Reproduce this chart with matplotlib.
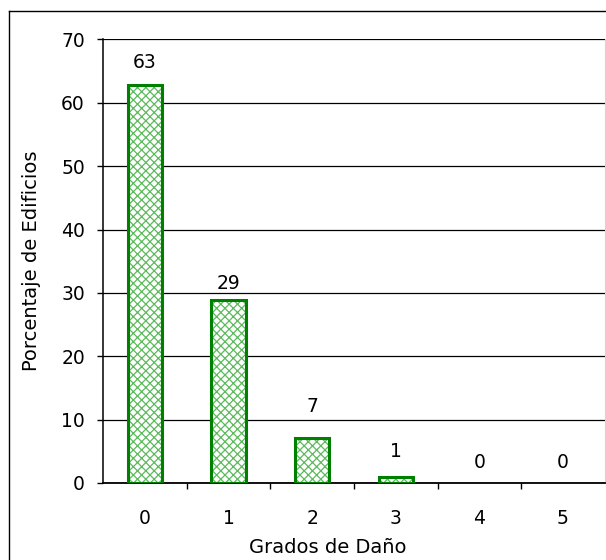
import matplotlib.pyplot as plt
from matplotlib.lines import Line2D

grados = ["0", "1", "2", "3", "4", "5"]
porcentaje = [62.8, 28.9, 7.1, 1.0, 0.0, 0.0]

# vertical offset (points) of each value label above its bar
label_offset = [16, 12, 23, 18, 15, 15]

plt.rcParams['font.family'] = ['DejaVu Sans']
plt.rcParams['hatch.linewidth'] = 0.9

fig = plt.figure(figsize=(6.06, 5.60), dpi=100)
ax = fig.add_axes([0.170, 0.1375, 0.828, 0.792])

x = range(len(grados))
# hatched fill first, then the dark outline on top (no outline for empty bars)
ax.bar(x, porcentaje, width=0.41, color='white', edgecolor='#5cba5c',
       hatch='xxxx', linewidth=0, zorder=3)
ax.bar(x, porcentaje, width=0.41, fill=False, edgecolor='#008000',
       linewidth=[2.2 if v > 0 else 0 for v in porcentaje], zorder=4)

for xi, v, off in zip(x, porcentaje, label_offset):
    ax.annotate(f"{v:.0f}", (xi, v), xytext=(0, off), textcoords='offset points',
                ha='center', va='center', fontsize=13.5, color='black')

ax.set_xlim(-0.5, len(grados) - 0.5)
ax.set_ylim(0, 70)
ax.set_yticks(range(0, 71, 10))
ax.set_xticks(list(x))
ax.set_xticklabels(grados)
ax.set_xticks([i + 0.5 for i in range(len(grados) - 1)], minor=True)

ax.tick_params(axis='x', which='major', length=0, pad=19, labelsize=13.5)
ax.tick_params(axis='x', which='minor', length=4, width=1, direction='out')
ax.tick_params(axis='y', length=4.5, width=1, pad=8.5, labelsize=13.5)

ax.yaxis.grid(True, color='black', linewidth=0.9)
ax.set_axisbelow(True)

ax.spines['top'].set_visible(False)
ax.spines['right'].set_color('#d4d4d4')
ax.spines['left'].set_linewidth(1.1)
ax.spines['bottom'].set_linewidth(1.3)

ax.set_ylabel("Porcentaje de Edificios", fontsize=14)
ax.set_xlabel("Grados de Daño", fontsize=14)
ax.xaxis.set_label_coords(0.448, -0.124)
ax.yaxis.set_label_coords(-0.123, 0.5)

# chart frame
W, H = 606, 560
fig.add_artist(Line2D([8.5 / W, 8.5 / W], [0, 1 - 10.5 / H], color='black',
                      linewidth=1, transform=fig.transFigure))
fig.add_artist(Line2D([8.5 / W, 1], [1 - 10.5 / H, 1 - 10.5 / H], color='black',
                      linewidth=1, transform=fig.transFigure))

plt.savefig("out.png", dpi=100)
